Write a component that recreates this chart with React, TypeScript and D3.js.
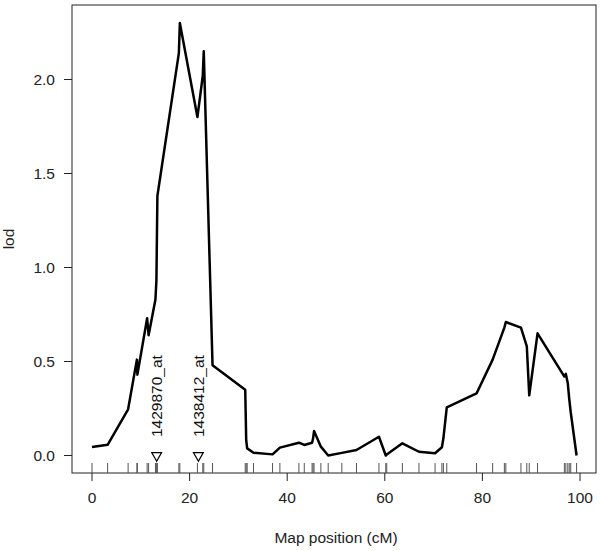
import * as d3 from 'd3';

// marker positions (cM) and lod scores
const positions = [
  0.0, 3.2, 7.4, 9.2, 9.3, 11.3, 11.6, 13.0, 13.2, 13.4, 17.8, 18.0, 21.6, 22.7, 22.9, 24.7,
  31.4, 31.6, 31.8, 33.1, 37.0, 38.5, 42.4, 43.5, 45.1, 45.3, 45.5, 46.9, 48.4, 51.2, 54.2,
  58.8, 60.2, 60.4, 63.6, 67.0, 70.3, 71.7, 72.0, 72.7, 78.8, 82.1, 84.5, 84.8, 87.9, 89.1,
  89.6, 91.3, 96.8, 97.1, 97.5, 97.8, 98.1, 99.3,
];
const lod = [
  0.045, 0.057, 0.246, 0.51, 0.43, 0.73, 0.64, 0.83, 0.93, 1.38, 2.14, 2.3, 1.8, 2.02, 2.15, 0.48,
  0.35, 0.08, 0.038, 0.015, 0.006, 0.042, 0.068, 0.056, 0.068, 0.09, 0.13, 0.047, 0.0, 0.014, 0.029,
  0.1, 0.0, 0.005, 0.065, 0.02, 0.012, 0.044, 0.09, 0.256, 0.33, 0.51, 0.68, 0.71, 0.68, 0.58,
  0.32, 0.65, 0.42, 0.434, 0.384, 0.3, 0.23, 0.0,
];

const probeNames = ['1429870_at', '1438412_at'];
const probePos = [13.25, 21.8];

const xTicks = [0, 20, 40, 60, 80, 100];
const yTicks = [0, 0.5, 1, 1.5, 2];

const W = 600;
const H = 551;
const box = { left: 72, right: 596, top: 5, bottom: 473 };
const font = 'Liberation Sans, Arial, Helvetica, sans-serif';
const fs = 15.5;

export default function App() {
  const x = d3.scaleLinear().domain([0, 100]).range([92, 580]);
  const y = d3.scaleLinear().domain([0, 2]).range([455.5, 79.5]);

  const pts = positions.map((p, i) => [p, lod[i]] as [number, number]);
  const line = d3
    .line<[number, number]>()
    .x(d => x(d[0]))
    .y(d => y(d[1]));

  const tri = d3.symbol().type(d3.symbolTriangle).size(42);

  return (
    <svg
      width={W}
      height={H}
      style={{ position: 'absolute', left: 0, top: 0, background: '#fff' }}
      fontFamily={font}
    >
      <rect
        x={box.left}
        y={box.top}
        width={box.right - box.left}
        height={box.bottom - box.top}
        fill="none"
        stroke="#222"
        strokeWidth={1}
      />

      {/* x axis */}
      {xTicks.map(t => (
        <g key={'x' + t}>
          <line x1={x(t)} x2={x(t)} y1={box.bottom} y2={box.bottom + 8} stroke="#222" />
          <text x={x(t)} y={503} textAnchor="middle" fontSize={fs} fill="#222">
            {t}
          </text>
        </g>
      ))}
      <text x={336} y={543} textAnchor="middle" fontSize={fs} fill="#222">
        Map position (cM)
      </text>

      {/* y axis */}
      {yTicks.map(t => (
        <g key={'y' + t}>
          <line x1={box.left - 8} x2={box.left} y1={y(t)} y2={y(t)} stroke="#222" />
          <text x={55} y={y(t) + 5.5} textAnchor="end" fontSize={fs} fill="#222">
            {t.toFixed(1)}
          </text>
        </g>
      ))}
      <text
        transform={`translate(14,${(box.top + box.bottom) / 2}) rotate(-90)`}
        textAnchor="middle"
        fontSize={fs}
        fill="#222"
      >
        lod
      </text>

      {/* rug of marker positions */}
      {positions.map((p, i) => (
        <line
          key={'r' + i}
          x1={x(p)}
          x2={x(p)}
          y1={box.bottom - 10}
          y2={box.bottom}
          stroke="#555"
          strokeWidth={1}
        />
      ))}

      <path d={line(pts) || ''} fill="none" stroke="#000" strokeWidth={2.5} strokeLinejoin="round" />

      {/* probe markers */}
      {probePos.map((p, i) => (
        <g key={'p' + i}>
          <path
            d={tri() || ''}
            transform={`translate(${x(p)},455.5) rotate(180)`}
            fill="#fff"
            stroke="#000"
            strokeWidth={1.2}
          />
          <text
            transform={`translate(${x(p) + 5.5},437) rotate(-90)`}
            textAnchor="start"
            fontSize={fs}
            fill="#111"
          >
            {probeNames[i]}
          </text>
        </g>
      ))}
    </svg>
  );
}
